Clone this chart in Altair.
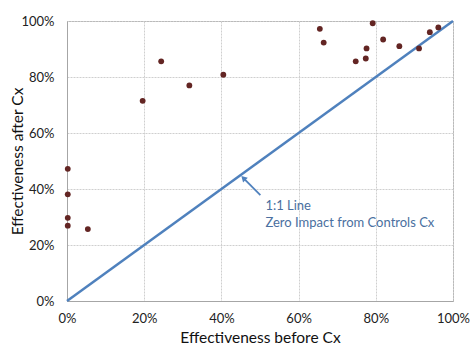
import altair as alt
import pandas as pd

before = [0.196, 0.244, 0.317, 0.405, 0.002, 0.002, 0.002, 0.002, 0.054,
          0.655, 0.665, 0.792, 0.819, 0.776, 0.774, 0.748, 0.861, 0.912, 0.940, 0.962]
after = [0.715, 0.856, 0.770, 0.808, 0.472, 0.381, 0.297, 0.269, 0.257,
         0.972, 0.923, 0.992, 0.934, 0.902, 0.866, 0.856, 0.910, 0.902, 0.960, 0.977]

line_x = [0.0, 1.0]
line_y = [0.0, 1.0]

arrow_x = [0.501, 0.457]
arrow_y = [0.378, 0.439]

note_text = ["1:1 Line", "Zero Impact from Controls Cx"]
note_x = [0.514, 0.514]
note_y = [0.324, 0.264]

FONT = "Lato"
LINE_BLUE = "#4F81BD"
NOTE_BLUE = "#4A6FA0"

pts = pd.DataFrame({"before": before, "after": after})
ln = pd.DataFrame({"before": line_x, "after": line_y})
arr = pd.DataFrame({"before": arrow_x, "after": arrow_y})
head = arr.iloc[[1]]
notes = pd.DataFrame({"before": note_x, "after": note_y, "t": note_text})

xs = alt.Scale(domain=[0, 1], nice=False, zero=False)
ys = alt.Scale(domain=[0, 1], nice=False, zero=False)

xaxis = alt.Axis(format=".0%", values=[0, 0.2, 0.4, 0.6, 0.8, 1.0],
                 title="Effectiveness before Cx", titleFontSize=15.5, titleFont=FONT,
                 titleFontWeight="normal", titleColor="#111111", titlePadding=5,
                 labelFont=FONT, labelFontSize=13, labelColor="#222222", labelPadding=11,
                 ticks=False, domainColor="#A6A6A6", gridColor="#CFCFCF",
                 gridDash=[2, 1], labelFlush=False)
yaxis = alt.Axis(format=".0%", values=[0, 0.2, 0.4, 0.6, 0.8, 1.0],
                 title="Effectiveness after Cx", titleFontSize=15.5, titleFont=FONT,
                 titleFontWeight="normal", titleColor="#111111",
                 titleX=-50, titleY=140, titleAngle=270, titleAlign="center",
                 titleBaseline="middle",
                 labelFont=FONT, labelFontSize=13, labelColor="#222222", labelPadding=13,
                 ticks=False, domainColor="#A6A6A6", gridColor="#CFCFCF",
                 gridDash=[2, 1], labelFlush=False)

line = alt.Chart(ln).mark_line(color=LINE_BLUE, strokeWidth=2.5).encode(
    x=alt.X("before:Q", scale=xs, axis=xaxis),
    y=alt.Y("after:Q", scale=ys, axis=yaxis),
)

points = alt.Chart(pts).mark_circle(color="#632523", opacity=1, size=34).encode(
    x=alt.X("before:Q", scale=xs),
    y=alt.Y("after:Q", scale=ys),
)

arrow = alt.Chart(arr).mark_line(color=LINE_BLUE, strokeWidth=1.8).encode(
    x="before:Q", y="after:Q"
)
arrowhead = alt.Chart(head).mark_point(shape="triangle-up", filled=True, color=LINE_BLUE,
                                       size=45, angle=315, opacity=1).encode(
    x="before:Q", y="after:Q"
)

text = alt.Chart(notes).mark_text(align="left", baseline="alphabetic", font=FONT,
                                  fontSize=13, color=NOTE_BLUE).encode(
    x="before:Q", y="after:Q", text="t:N"
)

chart = alt.layer(line, points, arrow, arrowhead, text).properties(
    width=386, height=280,
    autosize=alt.AutoSizeParams(type="none"),
    padding={"left": 67, "top": 21, "right": 20, "bottom": 51},
    background="white",
).configure_view(stroke="#A6A6A6", strokeWidth=1)

chart.save("out.html", embed_options={"renderer": "svg", "actions": False})
